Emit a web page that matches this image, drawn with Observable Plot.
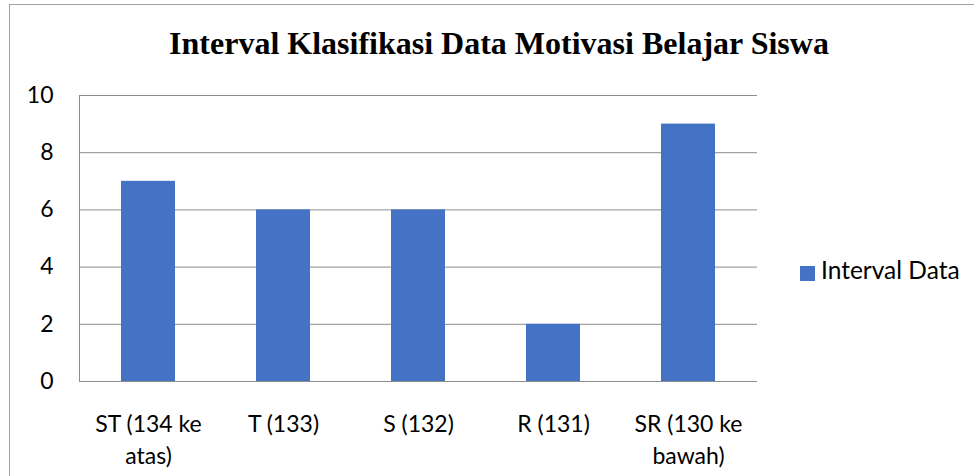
<!DOCTYPE html>
<html>
<head>
<meta charset="utf-8">
<script src="https://cdn.jsdelivr.net/npm/d3@7"></script>
<script src="https://cdn.jsdelivr.net/npm/@observablehq/plot@0.6"></script>
<style>
  html, body { margin: 0; padding: 0; background: #fff; }
  #wrap { position: relative; width: 974px; height: 476px; overflow: hidden; background: #fff; }
  #border { position: absolute; left: 9px; top: 4px; width: 1200px; height: 1200px; border: 1px solid #a0a0a0; box-sizing: border-box; }
  #title { position: absolute; left: 0; width: 998px; top: 27px; text-align: center;
           font-family: "Liberation Serif", "Times New Roman", serif; font-weight: bold; font-size: 32px; line-height: 32px; color: #000; white-space: nowrap; }
  #chart { position: absolute; left: 0; top: 0; }
  #legend { position: absolute; left: 800px; top: 258px; font-family: Lato, sans-serif; font-size: 24.5px; line-height: 24.5px; color: #000; white-space: nowrap; }
  #legend .sw { position: absolute; left: 0; top: 8px; width: 15px; height: 15px; background: #4472C4; }
  #legend .lb { position: absolute; left: 21px; top: 0; }
</style>
</head>
<body>
<div id="wrap">
  <div id="border"></div>
  <div id="chart"></div>
  <div id="title">Interval Klasifikasi Data Motivasi Belajar Siswa</div>
  <div id="legend"><div class="sw"></div><div class="lb">Interval Data</div></div>
</div>
<script>
const categories = ["ST (134 ke atas)", "T (133)", "S (132)", "R (131)", "SR (130 ke bawah)"];
const xTickLabels = ["ST (134 ke\natas)", "T (133)", "S (132)", "R (131)", "SR (130 ke\nbawah)"];
const values = [7, 6, 6, 2, 9];
const yTicks = [0, 2, 4, 6, 8, 10];
const seriesName = "Interval Data";

const data = categories.map((c, i) => ({category: c, value: values[i]}));

const leftLine = (index, scales, values, dims) => {
  const ns = "http://www.w3.org/2000/svg";
  const l = document.createElementNS(ns, "line");
  l.setAttribute("x1", dims.marginLeft + 0.5);
  l.setAttribute("x2", dims.marginLeft + 0.5);
  l.setAttribute("y1", dims.marginTop);
  l.setAttribute("y2", dims.height - dims.marginBottom);
  l.setAttribute("stroke", "#8c8c8c");
  l.setAttribute("stroke-width", 1);
  return l;
};

const chart = Plot.plot({
  width: 974,
  height: 476,
  marginLeft: 79,
  marginRight: 217,
  marginTop: 95,
  marginBottom: 95,
  style: {fontFamily: "Lato, sans-serif", fontSize: "23px", color: "#000", background: "transparent", overflow: "visible"},
  x: {domain: categories, paddingInner: 0.6, paddingOuter: 0.3, label: null},
  y: {domain: [0, 10], label: null},
  marks: [
    Plot.gridY(yTicks, {stroke: "#8c8c8c", strokeOpacity: 1, strokeWidth: 1}),
    leftLine,
    Plot.barY(data, {x: "category", y: "value", fill: "#4472C4", title: d => `${seriesName}: ${d.value}`}),
    Plot.axisY(yTicks, {tickSize: 0, tickPadding: 26, fontSize: 23, label: null}),
    Plot.axisX({tickSize: 0, tickPadding: 28, fontSize: 23, lineHeight: 32 / 23, label: null,
                tickFormat: d => xTickLabels[categories.indexOf(d)]})
  ]
});
document.getElementById("chart").appendChild(chart);
</script>
</body>
</html>
